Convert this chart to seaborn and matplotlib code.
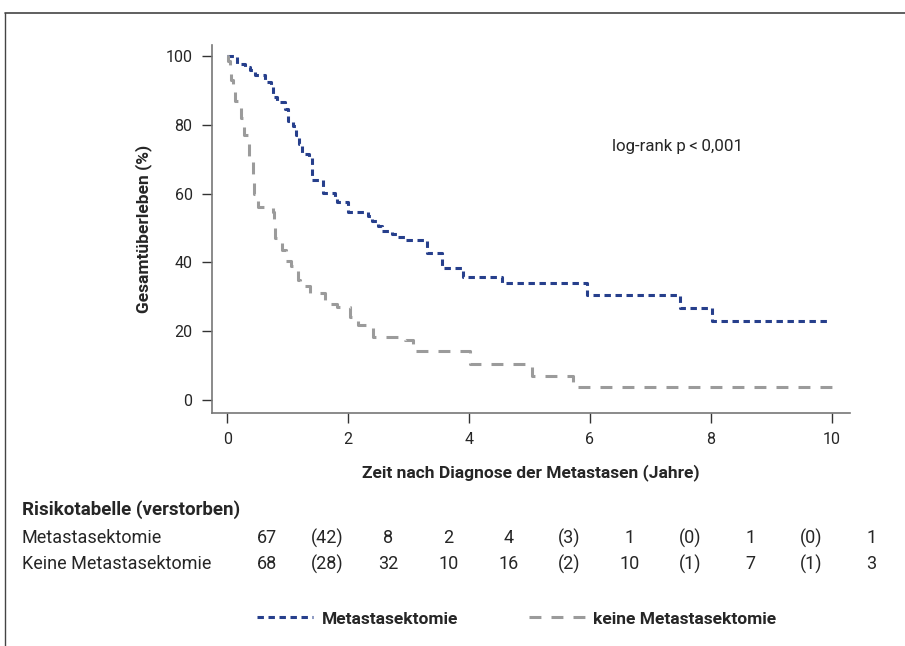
import numpy as np
import pandas as pd
import matplotlib
matplotlib.use("Agg")
import matplotlib.pyplot as plt
import matplotlib.transforms as mtransforms
from matplotlib.lines import Line2D
import seaborn as sns

# Kaplan-Meier steps (time in years, survival in %)
met_time = [0, 0.165, 0.30, 0.38, 0.46, 0.63, 0.73, 0.76, 0.83, 0.96, 1.01, 1.09, 1.14,
            1.19, 1.24, 1.36, 1.40, 1.59, 1.79, 1.82, 2.00, 2.33, 2.40, 2.50, 2.56, 2.73,
            2.81, 2.94, 3.31, 3.55, 3.90, 4.55, 5.95, 7.49, 8.02, 9.93]
met_surv = [100, 97.7, 96.9, 95.9, 94.4, 92.5, 91.5, 88, 86.5, 84.5, 81, 79.5, 77,
            74.5, 71.5, 70.5, 64, 60.3, 58.5, 57.5, 54.6, 53.5, 52, 50.5, 49.2, 48.3,
            47.5, 46.5, 42.7, 38.4, 35.8, 33.9, 30.5, 26.7, 23.0, 23.0]

keine_time = [0, 0.02, 0.04, 0.07, 0.09, 0.13, 0.20, 0.23, 0.26, 0.28, 0.34, 0.36, 0.40,
              0.42, 0.43, 0.44, 0.50, 0.51, 0.76, 0.77, 0.79, 0.82, 0.90, 0.98, 1.05,
              1.12, 1.17, 1.20, 1.37, 1.62, 1.82, 2.03, 2.17, 2.41, 2.94, 3.07, 4.02,
              5.04, 5.72, 10.0]
keine_surv = [100, 98.5, 96.5, 93, 90, 87, 85.5, 82, 80, 77, 75.5, 71, 69.5,
              66, 63, 60, 59, 56, 54.5, 52, 47, 45.5, 43.5, 40.5, 39,
              37.5, 35, 33, 31, 28, 27, 24, 21.8, 18.3, 17.4, 14.2, 10.5,
              7.0, 3.7, 3.7]

group_names = ["Metastasektomie", "keine Metastasektomie"]

# risk table
risk_years = list(range(11))
risk_row_labels = ["Metastasektomie", "Keine Metastasektomie"]
risk_met = ["67", "(42)", "8", "2", "4", "(3)", "1", "(0)", "1", "(0)", "1"]
risk_keine = ["68", "(28)", "32", "10", "16", "(2)", "10", "(1)", "7", "(1)", "3"]

df = pd.concat([
    pd.DataFrame({"Zeit": met_time, "Ueberleben": met_surv, "Gruppe": group_names[0]}),
    pd.DataFrame({"Zeit": keine_time, "Ueberleben": keine_surv, "Gruppe": group_names[1]}),
])

sns.set_style("ticks")
plt.rcParams["font.family"] = ["Roboto", "DejaVu Sans"]
plt.rcParams["font.size"] = 11

blue = "#263f8c"
grey = "#9b9b9b"

fig = plt.figure(figsize=(9.05, 6.46), dpi=100)
ax = fig.add_axes([0.2343, 0.3607, 0.7047, 0.5697])

sns.lineplot(
    data=df, x="Zeit", y="Ueberleben", hue="Gruppe", style="Gruppe",
    palette={group_names[0]: blue, group_names[1]: grey},
    dashes={group_names[0]: (2.1, 1.5), group_names[1]: (3.9, 3.3)},
    drawstyle="steps-post", estimator=None, sort=False, linewidth=2.2,
    legend=False, ax=ax,
)

ax.set_xlim(-0.25, 10.3)
ax.set_ylim(-3.8, 103.2)
ax.set_xticks(range(0, 11, 2))
ax.set_yticks(range(0, 101, 20))
ax.set_xlabel("Zeit nach Diagnose der Metastasen (Jahre)", fontweight="bold",
              fontsize=12.5, labelpad=12)
ax.set_ylabel("Gesamtüberleben (%)", fontweight="bold", fontsize=12.5, labelpad=10)
ax.tick_params(length=7, width=1, color="#333333", pad=7, labelsize=11.5)
sns.despine(ax=ax)
for side in ["left", "bottom"]:
    ax.spines[side].set_color("#777777")
    ax.spines[side].set_linewidth(1.2)

ax.text(6.36, 73.8, "log-rank p\u2009<\u20090,001", ha="left", va="center", fontsize=12.2)

# risk table below the plot
tab_fs = 13
trans = mtransforms.blended_transform_factory(ax.transData, fig.transFigure)
fig.text(0.0243, 0.2105, "Risikotabelle (verstorben)", fontweight="bold", va="center",
         fontsize=13.5)
for row_y, label, vals in [(0.1672, risk_row_labels[0], risk_met),
                           (0.1269, risk_row_labels[1], risk_keine)]:
    fig.text(0.0243, row_y, label, va="center", fontsize=tab_fs)
    for yr, v in zip(risk_years, vals):
        ax.text(yr + 0.66, row_y, v, transform=trans, ha="center", va="center",
                fontsize=tab_fs)

# legend at the bottom
leg = fig.legend(handles=ax.lines[:2], labels=group_names, loc="center",
                 bbox_to_anchor=(0.571, 0.0418), ncol=2, frameon=False,
                 handlelength=3.2, handletextpad=0.5, columnspacing=4.1,
                 prop={"weight": "bold", "size": 12.5})

# frame lines (top and left)
fig.add_artist(Line2D([5 / 905, 1], [1 - 13 / 646] * 2, transform=fig.transFigure,
                      color="#444444", lw=1.2))
fig.add_artist(Line2D([5 / 905] * 2, [0, 1 - 13 / 646], transform=fig.transFigure,
                      color="#444444", lw=1.0))

plt.savefig("out.png", dpi=100)
